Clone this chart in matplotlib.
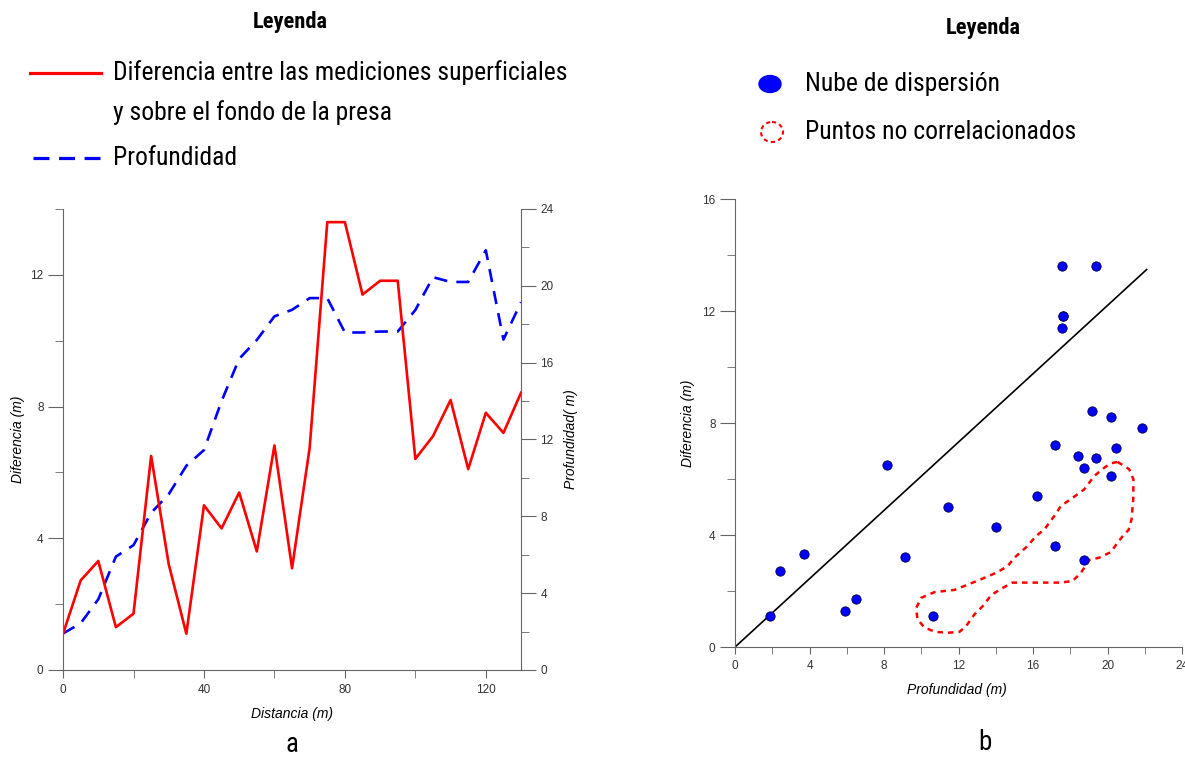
import matplotlib
matplotlib.use('Agg')
import matplotlib.pyplot as plt
from matplotlib.patches import Ellipse
from matplotlib import font_manager as fm
from matplotlib.font_manager import FontProperties

# ---------------- data ----------------
distancia = [0, 5, 10, 15, 20, 25, 30, 35, 40, 45, 50, 55, 60, 65, 70,
             75, 80, 85, 90, 95, 100, 105, 110, 115, 120, 125, 130]
diferencia = [1.10, 2.72, 3.31, 1.30, 1.71, 6.50, 3.21, 1.10, 5.00, 4.30,
              5.39, 3.60, 6.82, 3.09, 6.75, 13.60, 13.60, 11.40, 11.82, 11.82,
              6.41, 7.10, 8.20, 6.10, 7.81, 7.20, 8.42]
profundidad = [1.90, 2.43, 3.68, 5.90, 6.50, 8.18, 9.15, 10.63, 11.45, 14.00,
               16.20, 17.18, 18.41, 18.75, 19.36, 19.36, 17.57, 17.57, 17.62, 17.62,
               18.74, 20.45, 20.20, 20.20, 21.85, 17.20, 19.15]

# fitted line of the scatter (through origin)
fit_slope = 0.61
fit_xmax = 22.1

# outline of the "puntos no correlacionados" zone (data coords of panel b)
zona_x = [20.54, 21.16, 21.39, 21.38, 21.29, 21.13, 20.89, 20.54, 20.18, 19.55,
          19.02, 18.57, 18.13, 17.50, 16.07, 14.90, 14.29, 13.75, 13.30, 12.86,
          12.41, 12.05, 11.43, 10.75, 10.18, 9.79, 9.73, 10.00, 10.71, 11.79,
          12.32, 13.21, 14.02, 14.64, 15.00, 15.71, 16.16, 16.61, 17.14, 17.50,
          18.13, 18.75, 19.29, 19.82, 20.18, 20.54]
zona_y = [6.61, 6.35, 5.99, 5.27, 4.56, 4.18, 4.02, 3.73, 3.39, 3.19,
          3.11, 2.65, 2.36, 2.30, 2.30, 2.30, 2.08, 1.85, 1.46, 1.17,
          0.75, 0.54, 0.51, 0.54, 0.69, 0.99, 1.40, 1.76, 1.96, 2.04,
          2.18, 2.42, 2.65, 2.89, 3.19, 3.61, 3.96, 4.20, 4.68, 5.04,
          5.33, 5.63, 6.11, 6.40, 6.56, 6.61]

RED = '#ff0000'
BLUE = '#0000ff'
SPINE = '#666666'
TICKC = '#333333'
ARIAL = ['Liberation Sans', 'DejaVu Sans']


# ---- pick a condensed font if one is installed ----
def pick_condensed(bold=False):
    prefs = ['Roboto Condensed', 'Liberation Sans Narrow', 'Open Sans Condensed',
             'Noto Sans Condensed', 'DejaVu Sans Condensed', 'Arial Narrow']
    best = None
    for f in fm.fontManager.ttflist:
        if f.style != 'normal':
            continue
        isbold = (f.weight in ('bold', 700, 'heavy', 800)) if not isinstance(f.weight, int) else f.weight >= 700
        if bold != isbold:
            continue
        fname_low = f.fname.lower()
        cond = ('condensed' in str(f.stretch).lower() or 'condensed' in f.name.lower()
                or 'narrow' in f.name.lower() or 'condensed' in fname_low or 'narrow' in fname_low)
        if not cond:
            continue
        rank = len(prefs)
        for i, p in enumerate(prefs):
            if p.lower().split()[0] in f.name.lower():
                rank = i
                break
        if 'semi' in fname_low or 'extra' in fname_low:
            rank += 10
        if best is None or rank < best[0]:
            best = (rank, f.fname)
    if best is None:
        return FontProperties(family='DejaVu Sans', weight='bold' if bold else 'normal')
    return FontProperties(fname=best[1])


COND = pick_condensed(False)
COND_B = pick_condensed(True)

fig = plt.figure(figsize=(11.85, 7.61), dpi=100)

# ---------------- panel a ----------------
ax1 = fig.add_axes([0.0532, 0.1196, 0.3865, 0.6058])
ax2 = ax1.twinx()
ax1.set_zorder(ax2.get_zorder() + 1)
ax1.patch.set_visible(False)

ax1.plot(distancia, diferencia, color=RED, lw=1.9)
ax2.plot(distancia, profundidad, color=BLUE, lw=1.9, dashes=(5, 3.5))

ax1.set_xlim(0, 130)
ax1.set_ylim(0, 14)
ax2.set_ylim(0, 24)

ax1.set_xticks([0, 40, 80, 120])
ax1.set_xticks([20, 60, 100], minor=True)
ax1.set_yticks([0, 4, 8, 12])
ax1.set_yticks([2, 6, 10, 14], minor=True)
ax2.set_yticks([0, 4, 8, 12, 16, 20, 24])
ax2.set_yticks([2, 6, 10, 14, 18, 22], minor=True)

for a in (ax1, ax2):
    a.spines['top'].set_visible(False)
    for s in a.spines.values():
        s.set_color(SPINE)
ax1.spines['right'].set_visible(False)
ax2.spines['left'].set_visible(False)
ax2.spines['bottom'].set_visible(False)

ax1.tick_params(axis='y', which='major', length=11, color=SPINE, labelsize=8.5,
                labelcolor=TICKC, pad=3)
ax1.tick_params(axis='y', which='minor', length=5.5, color=SPINE)
ax1.tick_params(axis='x', which='both', length=6, color=SPINE, labelsize=8.5,
                labelcolor=TICKC, pad=4)
ax2.tick_params(axis='y', which='major', length=11, color=SPINE, labelsize=8.5,
                labelcolor=TICKC, pad=3)
ax2.tick_params(axis='y', which='minor', length=5.5, color=SPINE)
for lab in ax1.get_xticklabels() + ax1.get_yticklabels() + ax2.get_yticklabels():
    lab.set_family(ARIAL)

ax1.set_xlabel('Distancia (m)', fontsize=10, fontstyle='italic', family=ARIAL, va='center')
ax1.xaxis.set_label_coords(0.5, -0.095)
ax1.set_ylabel('Diferencia (m)', fontsize=10, fontstyle='italic', family=ARIAL, va='center')
ax1.yaxis.set_label_coords(-0.098, 0.5)
ax2.set_ylabel('Profundidad( m)', fontsize=10, fontstyle='italic', family=ARIAL,
               va='center', rotation=90)
ax2.yaxis.set_label_coords(1.109, 0.5)

# ---------------- panel b ----------------
ax3 = fig.add_axes([0.6203, 0.1498, 0.3772, 0.5887])
ax3.plot([0, fit_xmax], [0, fit_slope * fit_xmax], color='black', lw=1.2, zorder=2)
ax3.scatter(profundidad, diferencia, s=45, c=BLUE, edgecolors='#000044',
            linewidths=0.6, zorder=3)
ax3.plot(zona_x, zona_y, color=RED, lw=1.8, dashes=(2.2, 2.0), zorder=2)
ax3.set_xlim(0, 24)
ax3.set_ylim(0, 16)
ax3.set_xticks([0, 4, 8, 12, 16, 20, 24])
ax3.set_xticks([2, 6, 10, 14, 18, 22], minor=True)
ax3.set_yticks([0, 4, 8, 12, 16])
ax3.set_yticks([2, 6, 10, 14], minor=True)
ax3.spines['top'].set_visible(False)
ax3.spines['right'].set_visible(False)
for s in ax3.spines.values():
    s.set_color(SPINE)
ax3.tick_params(axis='y', which='major', length=11, color=SPINE, labelsize=8.5,
                labelcolor=TICKC, pad=3)
ax3.tick_params(axis='y', which='minor', length=5.5, color=SPINE)
ax3.tick_params(axis='x', which='both', length=5, color=SPINE, labelsize=8.5,
                labelcolor=TICKC, pad=4)
for lab in ax3.get_xticklabels() + ax3.get_yticklabels():
    lab.set_family(ARIAL)
ax3.set_xlabel('Profundidad (m)', fontsize=10, fontstyle='italic', family=ARIAL, va='center')
ax3.xaxis.set_label_coords(0.497, -0.096)
ax3.set_ylabel('Diferencia (m)', fontsize=10, fontstyle='italic', family=ARIAL, va='center')
ax3.yaxis.set_label_coords(-0.105, 0.5)

# ---------------- legends / captions (figure pixel overlay) ----------------
ov = fig.add_axes([0, 0, 1, 1])
ov.set_xlim(0, 1185)
ov.set_ylim(761, 0)
ov.axis('off')
ov.patch.set_visible(False)

renderer = fig.canvas.get_renderer()


def fitted_size(s, target_px, fp, base=20.0):
    t = ov.text(0, 0, s, fontproperties=fp, fontsize=base)
    w = t.get_window_extent(renderer=renderer).width
    t.remove()
    return base * target_px / w


legend_items = [
    ('Diferencia entre las mediciones superficiales', 455),
    ('y sobre el fondo de la presa', 280),
    ('Profundidad', 123),
    ('Nube de dispersión', 192),
    ('Puntos no correlacionados', 270),
]
sizes = sorted(fitted_size(s, w, COND) for s, w in legend_items)
LEG_FS = sizes[len(sizes) // 2]
HEAD_FS = fitted_size('Leyenda', 75, COND_B)

ov.text(290, 22, 'Leyenda', fontproperties=COND_B, fontsize=HEAD_FS,
        ha='center', va='center')
ov.plot([30, 101], [73, 73], color=RED, lw=2.3)
ov.text(113, 73, 'Diferencia entre las mediciones superficiales', fontproperties=COND,
        fontsize=LEG_FS, ha='left', va='center')
ov.text(113, 113, 'y sobre el fondo de la presa', fontproperties=COND,
        fontsize=LEG_FS, ha='left', va='center')
ov.plot([33, 100], [158, 158], color=BLUE, lw=2.3, dashes=(5, 3))
ov.text(113, 158, 'Profundidad', fontproperties=COND, fontsize=LEG_FS,
        ha='left', va='center')

ov.text(983, 28, 'Leyenda', fontproperties=COND_B, fontsize=HEAD_FS,
        ha='center', va='center')
ov.add_patch(Ellipse((770, 84), 22, 17, facecolor=BLUE, edgecolor=BLUE))
ov.text(805, 84, 'Nube de dispersión', fontproperties=COND, fontsize=LEG_FS,
        ha='left', va='center')
ov.add_patch(Ellipse((772, 132), 22, 20, facecolor='none', edgecolor=RED,
                     lw=1.5, linestyle=(0, (2, 1.6))))
ov.text(805, 132, 'Puntos no correlacionados', fontproperties=COND, fontsize=LEG_FS,
        ha='left', va='center')

ov.text(292, 745, 'a', fontproperties=COND, fontsize=LEG_FS * 1.05, ha='center', va='center')
ov.text(985, 742, 'b', fontproperties=COND, fontsize=LEG_FS * 1.05, ha='center', va='center')

fig.savefig('out.png', dpi=100)
